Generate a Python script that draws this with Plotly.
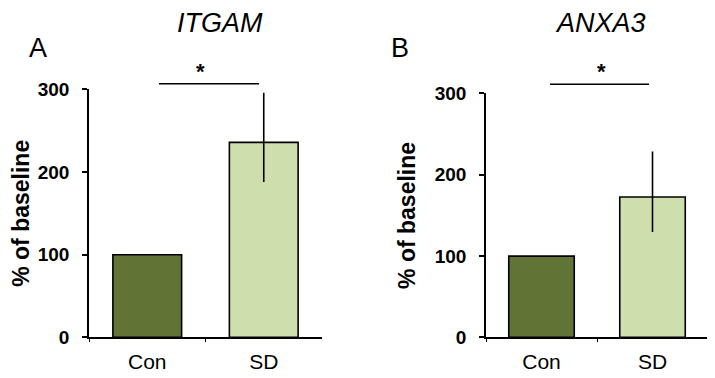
import plotly.graph_objects as go

categories = ["Con", "SD"]
itgam_values = [100, 235.7]
itgam_err_plus = [0, 60]
itgam_err_minus = [0, 48]
anxa3_values = [100, 172.7]
anxa3_err_plus = [0, 56]
anxa3_err_minus = [0, 43]
y_ticks = [0, 100, 200, 300]
bar_colors = ["#617335", "#cfdead"]
titles = ["ITGAM", "ANXA3"]
letters = ["A", "B"]

FONT = "Liberation Sans, Arial, sans-serif"

# pixel -> paper helpers (figure is placed with page offsets in the viewer)
def px(x):
    return (x - 8) / 715

def py(y):
    return 1 - (y - 17) / 361

fig = go.Figure()

panels = [
    dict(vals=itgam_values, ep=itgam_err_plus, em=itgam_err_minus, xa="x", ya="y",
         xdom=[px(89), px(322)], ydom=[py(340), py(89)], standoff=14),
    dict(vals=anxa3_values, ep=anxa3_err_plus, em=anxa3_err_minus, xa="x2", ya="y2",
         xdom=[px(486), px(708)], ydom=[py(340), py(93.3)], standoff=13),
]

for p in panels:
    fig.add_trace(go.Bar(
        x=categories, y=p["vals"], xaxis=p["xa"], yaxis=p["ya"],
        marker=dict(color=bar_colors, line=dict(color="black", width=1.6)),
        width=0.59,
        error_y=dict(type="data", array=p["ep"], arrayminus=p["em"], symmetric=False,
                     color="black", thickness=1.6, width=0),
        showlegend=False, hoverinfo="skip",
    ))

axis_common = dict(showline=True, linecolor="black", linewidth=1.6, mirror=False,
                   showgrid=False, zeroline=False)

for i, p in enumerate(panels):
    suffix = "" if i == 0 else str(i + 1)
    fig.update_layout(**{
        "xaxis" + suffix: dict(domain=p["xdom"], anchor="y" + suffix, type="category",
                               range=[-0.5, 1.5], tickson="boundaries", ticks="outside",
                               ticklen=3, tickcolor="black", tickwidth=1,
                               tickfont=dict(family=FONT, size=21, color="black"),
                               ticklabelstandoff=5, **axis_common),
        "yaxis" + suffix: dict(domain=p["ydom"], anchor="x" + suffix, range=[0, 300],
                               tickvals=y_ticks, ticks="outside", ticklen=5,
                               tickcolor="black", tickwidth=1.6,
                               tickfont=dict(family=FONT, size=19, color="black", weight="bold"),
                               ticklabelstandoff=9,
                               title=dict(text="% of baseline", standoff=p["standoff"],
                                          font=dict(family=FONT, size=23, color="black", weight="bold")),
                               **axis_common),
    })

title_x = [px(220), px(600)]
letter_x = [px(38), px(400)]
for i in range(2):
    fig.add_annotation(text=titles[i], x=title_x[i], y=py(22), xref="paper", yref="paper",
                       showarrow=False, font=dict(family=FONT, size=27, color="black", style="italic"),
                       xanchor="center", yanchor="middle")
    fig.add_annotation(text=letters[i], x=letter_x[i], y=py(47), xref="paper", yref="paper",
                       showarrow=False, font=dict(family=FONT, size=27, color="black"),
                       xanchor="center", yanchor="middle")

sig = [dict(x0=159, x1=259, y=83.5, sx=201), dict(x0=550, x1=649, y=84, sx=601.7)]
for s in sig:
    fig.add_shape(type="line", xref="paper", yref="paper",
                  x0=px(s["x0"]), x1=px(s["x1"]), y0=py(s["y"]), y1=py(s["y"]),
                  line=dict(color="black", width=1.6))
    fig.add_annotation(text="*", x=px(s["sx"]), y=py(71.5), xref="paper", yref="paper",
                       showarrow=False, font=dict(family=FONT, size=22, color="black", weight="bold"),
                       xanchor="center", yanchor="middle")

fig.update_layout(width=715, height=378, margin=dict(l=0, r=0, t=0, b=0),
                  paper_bgcolor="white", plot_bgcolor="white")

fig.write_html("out.html")
